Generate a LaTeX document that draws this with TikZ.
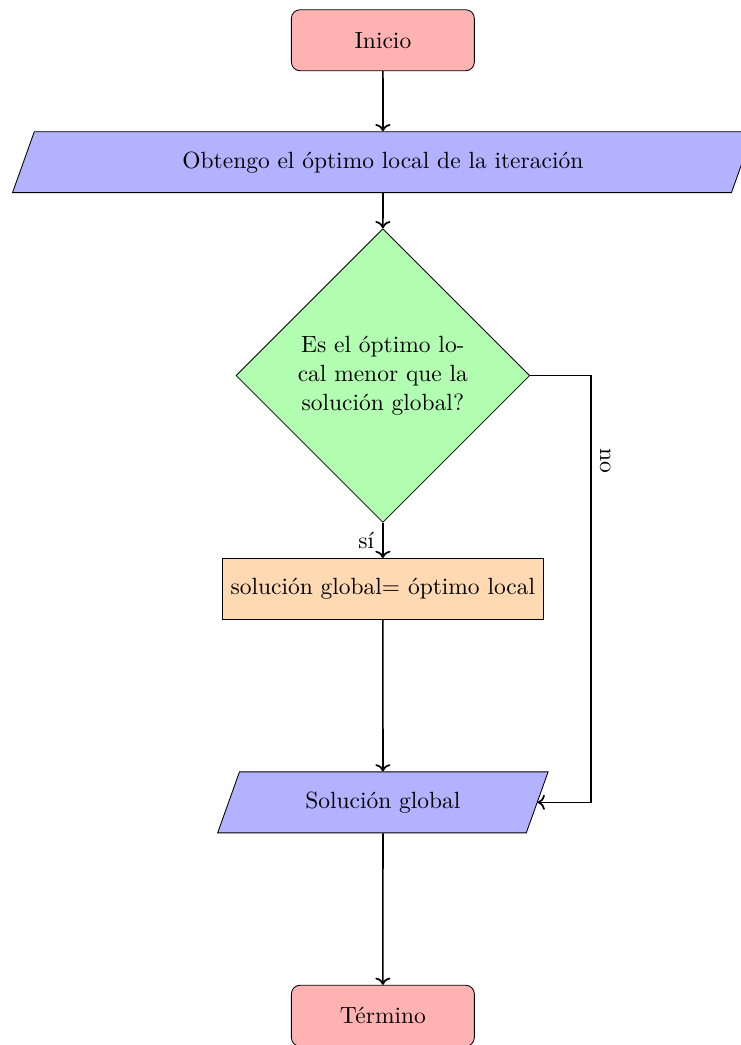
\documentclass[tikz,border=0pt,11pt]{standalone}
\usepackage{amsmath}
\usepackage{xcolor}
\usepackage{tikz}
\usetikzlibrary{arrows.meta, shapes.geometric, positioning}

\tikzset{
  inicfin/.style={rectangle, rounded corners, minimum width=3cm, minimum height=1cm,
    align=center, draw=black, fill=red!30},
  entsal/.style={trapezium, trapezium left angle=70, trapezium right angle=110,
    trapezium stretches body, inner ysep=9pt, minimum height=1cm,
    align=center, draw=black, fill=blue!30},
  proceso/.style={rectangle, minimum width=3cm, minimum height=1cm,
    align=center, draw=black, fill=orange!30},
  decide/.style={diamond, text width=3cm, align=center, draw=black, fill=green!30},
  flecha/.style={-{To}, thick}
}

\begin{document}
\begin{tikzpicture}
  \useasboundingbox (-6.28,0.66) rectangle (5.87,-16.48);

  \node[inicfin] (inicio) at (0,0) {Inicio};
  \node[entsal, minimum width=12.15cm] (optimo) at (0,-2) {Obtengo el óptimo local de la iteración};
  \node[decide] (pregunta) at (0,-5.5) {Es el óptimo local menor que la solución global?};
  \node[proceso] (actualiza) at (0,-9) {solución global= óptimo local};
  \node[entsal, minimum width=5.42cm] (salida) at (0,-12.5) {Solución global};
  \node[inicfin] (termino) at (0,-16) {Término};

  \draw[flecha] (inicio) -- (optimo);
  \draw[flecha] (optimo) -- (pregunta);
  \draw[flecha] (pregunta) -- node[left] {sí} (actualiza);
  \draw[flecha] (pregunta.east) -- ++(1,0) |- node[pos=0.1, sloped, above] {no} (salida.east);
  \draw[flecha] (actualiza) -- (salida);
  \draw[flecha] (salida) -- (termino);
\end{tikzpicture}
\end{document}
